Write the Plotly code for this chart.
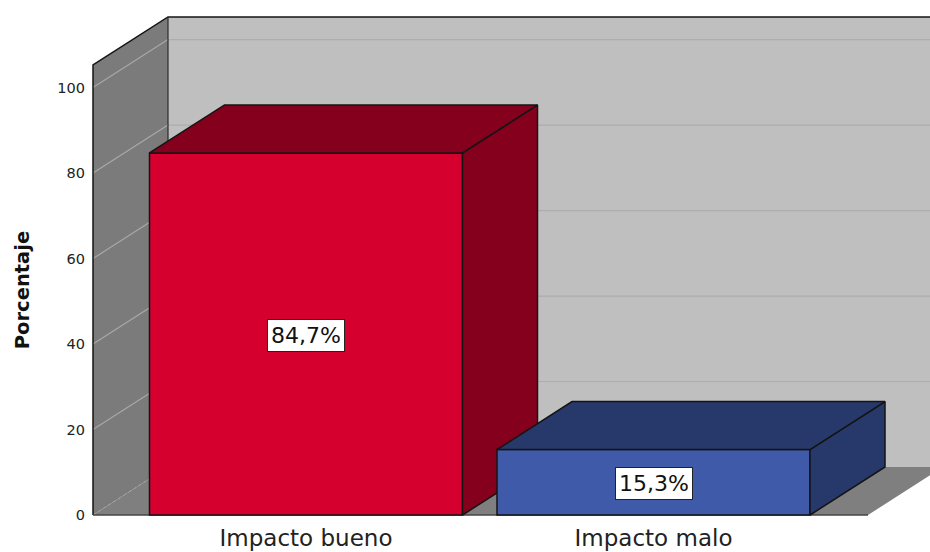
import plotly.graph_objects as go

categories = ["Impacto bueno", "Impacto malo"]
percent_values = [84.7, 15.3]
value_labels = ["84,7%", "15,3%"]
y_ticks = [0, 20, 40, 60, 80, 100]
front_colors = ["#d6002f", "#3f5aa8"]
dark_colors = ["#85001d", "#27396b"]

PX_X = 347.5          # pixels per category
PX_Y = 4.274          # pixels per percent
BAR_W = 313 / PX_X
DX = 75 / PX_X        # depth offset in x units
DY = 48 / PX_Y        # depth offset in y units
WALL_TOP = 105.3
X_LEFT = (93 - 306) / PX_X
X_RIGHT = (868 - 306) / PX_X
EDGE = "#141414"

L, T, B = 86, 8, 30
x_range = [(L - 306) / PX_X, (930 - 306) / PX_X]
y_range = [-(552 - B - 515) / PX_Y, (515 - T) / PX_Y]


def path_of(points, close=True):
    return "M " + " L ".join(f"{x},{y}" for x, y in points) + (" Z" if close else "")


shapes = []


def add_fill(points, fill):
    shapes.append(dict(type="path", path=path_of(points), xref="x", yref="y", layer="below",
                       fillcolor=fill, line=dict(width=0)))


def add_edge(points, color=EDGE, width=1.5, dash="solid"):
    shapes.append(dict(type="path", path=path_of(points, close=False), xref="x", yref="y", layer="below",
                       line=dict(color=color, width=width, dash=dash)))


FAR = X_RIGHT + DX + 1
add_fill([(X_LEFT + DX, DY), (FAR, DY), (FAR, WALL_TOP + DY), (X_LEFT + DX, WALL_TOP + DY)], "#bfbfbf")
add_fill([(X_LEFT, 0), (X_RIGHT, 0), (X_RIGHT + DX, DY), (X_LEFT + DX, DY)], "#7f7f7f")
add_fill([(X_LEFT, 0), (X_LEFT + DX, DY), (X_LEFT + DX, WALL_TOP + DY), (X_LEFT, WALL_TOP)], "#7b7b7b")

# gridlines across both walls
for t in y_ticks[1:]:
    add_edge([(X_LEFT, t), (X_LEFT + DX, t + DY)], "#a8a8a8", 1.2)
    add_edge([(X_LEFT + DX, t + DY), (FAR, t + DY)], "#adadad", 1.2)
add_edge([(X_LEFT, 0), (X_LEFT + DX, DY)], "#a6a6a6", 1, "dot")

add_edge([(X_LEFT, 0), (X_LEFT, WALL_TOP), (X_LEFT + DX, WALL_TOP + DY), (FAR, WALL_TOP + DY)])
add_edge([(X_LEFT + DX, DY), (X_LEFT + DX, WALL_TOP + DY)], "#2a2a2a", 1.2)
add_edge([(X_LEFT, 0), (X_RIGHT, 0)], "#444444", 1.5)

fig = go.Figure()


def add_bar(i, xa, ya):
    v = percent_values[i]
    x0, x1 = i - BAR_W / 2, i + BAR_W / 2
    fig.add_trace(go.Bar(x=[i], y=[v], width=BAR_W, xaxis=xa, yaxis=ya, name=categories[i],
                         marker=dict(color=front_colors[i], line=dict(color=EDGE, width=1.5))))
    side = [(x1, 0), (x1 + DX, DY), (x1 + DX, v + DY), (x1, v), (x1, 0)]
    top = [(x0, v), (x0 + DX, v + DY), (x1 + DX, v + DY), (x1, v), (x0, v)]
    for pts in (side, top):
        xs, ys = zip(*pts)
        fig.add_trace(go.Scatter(x=xs, y=ys, mode="lines", fill="toself", fillcolor=dark_colors[i],
                                 line=dict(color=EDGE, width=1.5), xaxis=xa, yaxis=ya, hoverinfo="skip"))


add_bar(0, "x", "y")
add_bar(1, "x2", "y2")

annotations = [
    dict(x=i, y=percent_values[i] / 2, xref="x", yref="y", yshift=-1, text=value_labels[i], showarrow=False,
         font=dict(family="DejaVu Sans", size=22, color="#111111"), bgcolor="#ffffff",
         bordercolor="#222222", borderwidth=1, borderpad=3)
    for i in range(2)
]
annotations.append(dict(x=(22 - L) / (930 - L), xref="paper", xanchor="center", y=52.6, yref="y",
                        text="<b>Porcentaje</b>", textangle=-90, showarrow=False,
                        font=dict(size=19.5, color="#111111")))

fig.update_layout(
    width=930, height=552, autosize=False, showlegend=False, barmode="overlay",
    paper_bgcolor="#ffffff", plot_bgcolor="#ffffff",
    margin=dict(l=L, r=0, t=T, b=B, pad=0),
    shapes=shapes, annotations=annotations,
    font=dict(family="DejaVu Sans", color="#222222"),
    xaxis=dict(range=x_range, tickmode="array", tickvals=[0, 1], ticktext=categories, showgrid=False,
               zeroline=False, showline=False, ticks="", tickfont=dict(size=23, color="#222222")),
    yaxis=dict(range=y_range, tickmode="array", tickvals=y_ticks, showgrid=False, zeroline=False, showline=False,
               ticks="", tickfont=dict(size=14.5, color="#222222")),
    xaxis2=dict(range=x_range, overlaying="x", visible=False, anchor="y2"),
    yaxis2=dict(range=y_range, overlaying="y", visible=False, anchor="x2"),
)

fig.write_html("out.html", config={"displayModeBar": False},
               post_script="document.documentElement.style.overflow='hidden';document.body.style.margin='0';")
